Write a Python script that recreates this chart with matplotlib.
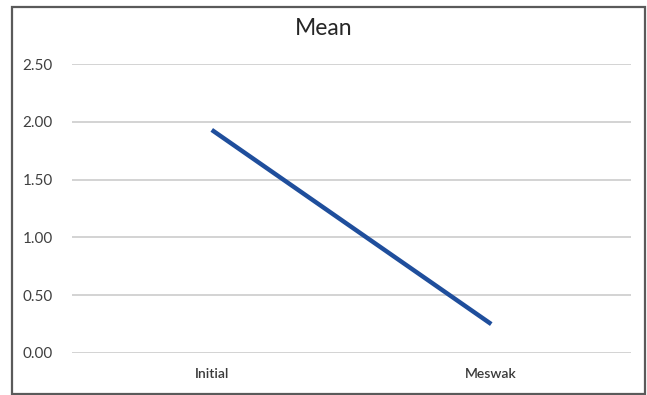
import matplotlib.pyplot as plt
from matplotlib.patches import Rectangle

# mean score at each stage
stages = ['Initial', 'Meswak']
means = [1.93, 0.25]
yticks = [0.0, 0.5, 1.0, 1.5, 2.0, 2.5]

plt.rcParams['font.family'] = ['Lato', 'DejaVu Sans']

W, H = 647, 395
fig = plt.figure(figsize=(W / 100, H / 100), dpi=100)
ax = fig.add_axes([72 / W, 1 - 353 / H, 559 / W, 289 / H])

x = range(len(stages))
ax.plot(x, means, color='#1F4E9C', linewidth=3.2, solid_capstyle='butt')

ax.set_xlim(-0.5, len(stages) - 0.5)
ax.set_ylim(0, 2.5)
ax.set_yticks(yticks)
ax.set_yticklabels([f'{v:.2f}' for v in yticks], fontsize=11, color='#404040')
ax.set_xticks(list(x))
ax.set_xticklabels(stages, fontsize=10, color='#3A3A3A', fontweight='semibold')
ax.tick_params(axis='x', length=0, pad=11)
ax.tick_params(axis='y', length=0, pad=14)

ax.grid(axis='y', color='#D0D0D0', linewidth=1.3)
ax.set_axisbelow(True)
for s in ax.spines.values():
    s.set_visible(False)

fig.text(0.5, 1 - 35 / H, 'Mean', ha='center', va='baseline', fontsize=16.5, color='#262626')

# outer chart border
fig.patches.append(Rectangle((12 / W, 1 / H), 633 / W, 387 / H,
                             transform=fig.transFigure, fill=False,
                             edgecolor='#5A5A5A', linewidth=1.6))

fig.savefig('out.png', dpi=100)
